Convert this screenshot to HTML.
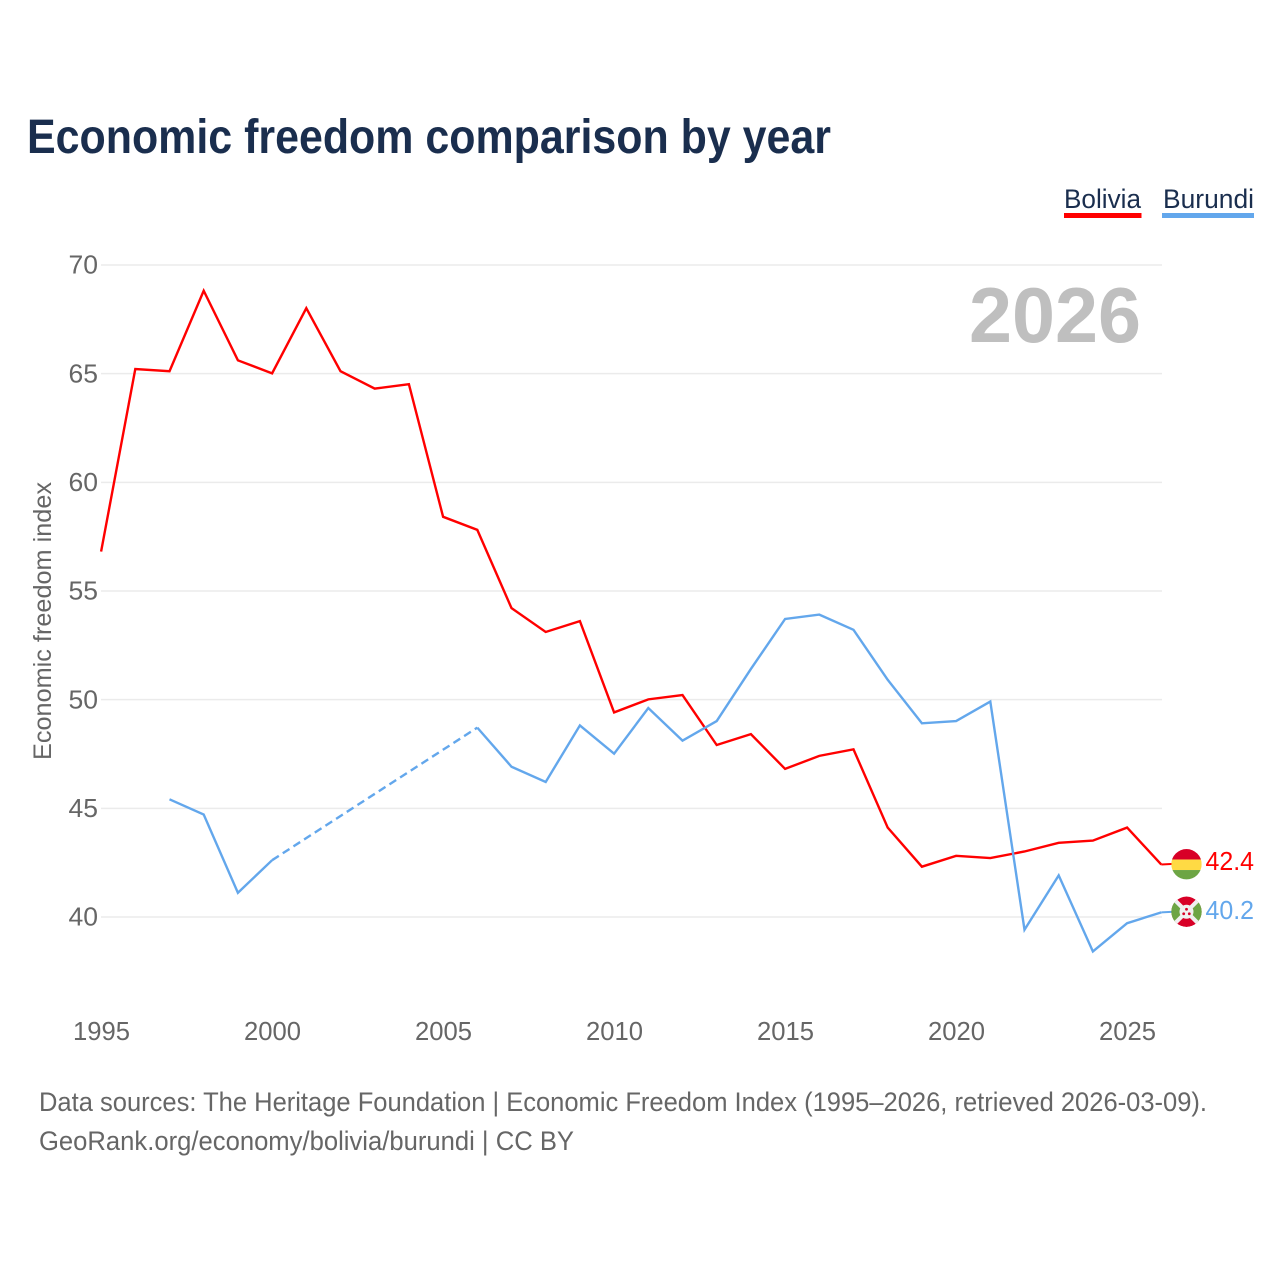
<!DOCTYPE html>
<html lang="en">
<head>
<meta charset="utf-8">
<title>Economic freedom comparison by year</title>
<style>
html,body{margin:0;padding:0;background:#fff}
svg{display:block;font-family:"Liberation Sans",sans-serif}
</style>
</head>
<body>
<svg id="chart" width="1280" height="1280" viewBox="0 0 1280 1280" xmlns="http://www.w3.org/2000/svg">
  <text x="27" y="153" font-size="48" font-weight="700" fill="#1a2e4e" textLength="804" lengthAdjust="spacingAndGlyphs">Economic freedom comparison by year</text>

  <g>
    <g>
      <text x="1064" y="208" font-size="27" fill="#1a2e4e" textLength="77" lengthAdjust="spacingAndGlyphs">Bolivia</text>
      <rect x="1064" y="213" width="77.500" height="5" fill="#ff0000"/>
    </g>
    <g>
      <text x="1163" y="208" font-size="27" fill="#1a2e4e" textLength="91" lengthAdjust="spacingAndGlyphs">Burundi</text>
      <rect x="1162" y="213" width="92" height="5" fill="#63a7ec"/>
    </g>
  </g>

  <g id="grid"></g>
  <g id="yticks"></g>
  <g id="xticks"></g>

  <text transform="translate(51 621) rotate(-90)" text-anchor="middle" font-size="25" fill="#666666" textLength="278" lengthAdjust="spacingAndGlyphs">Economic freedom index</text>

  <text x="969" y="342" font-size="78" font-weight="700" fill="#bfbfbf" textLength="172" lengthAdjust="spacingAndGlyphs">2026</text>

  <g id="series"></g>
  <g id="ends"></g>

  <text x="39" y="1111" font-size="27" fill="#666666" textLength="1168" lengthAdjust="spacingAndGlyphs">Data sources: The Heritage Foundation | Economic Freedom Index (1995–2026, retrieved 2026-03-09).</text>
  <text x="39" y="1150" font-size="27" fill="#666666" textLength="535" lengthAdjust="spacingAndGlyphs">GeoRank.org/economy/bolivia/burundi | CC BY</text>
</svg>
<script>
var years = [1995,1996,1997,1998,1999,2000,2001,2002,2003,2004,2005,2006,2007,2008,2009,2010,2011,2012,2013,2014,2015,2016,2017,2018,2019,2020,2021,2022,2023,2024,2025,2026];
var boliviaValues = [56.8,65.2,65.1,68.8,65.6,65.0,68.0,65.1,64.3,64.5,58.4,57.8,54.2,53.1,53.6,49.4,50.0,50.2,47.9,48.4,46.8,47.4,47.7,44.1,42.3,42.8,42.7,43.0,43.4,43.5,44.1,42.4];
var burundiValues = [null,null,45.4,44.7,41.1,42.6,null,null,null,null,null,48.7,46.9,46.2,48.8,47.5,49.6,48.1,49.0,51.4,53.7,53.9,53.2,50.9,48.9,49.0,49.9,39.4,41.9,38.4,39.7,40.2];
var yTickValues = [40,45,50,55,60,65,70];
var xTickValues = [1995,2000,2005,2010,2015,2020,2025];

var NS = 'http://www.w3.org/2000/svg';
function xScale(year){ return 101.1 + (year - 1995) * 34.2; }
function yScale(value){ return 264.7 + (70 - value) * 21.733; }
function make(tag, parent, attrs){
  var el = document.createElementNS(NS, tag);
  for (var k in attrs) el.setAttribute(k, attrs[k]);
  parent.appendChild(el);
  return el;
}

var grid = document.getElementById('grid');
var yticks = document.getElementById('yticks');
yTickValues.forEach(function(v){
  var line = make('line', grid, {x1:101, x2:1162, y1:yScale(v) + 0.3, y2:yScale(v) + 0.3, stroke:'#ebebeb', 'stroke-width':1.5});
  
  
  var label = make('text', yticks, {x:98, y:yScale(v) + 9, 'text-anchor':'end', 'font-size':26, fill:'#666666', textLength:29.5, lengthAdjust:'spacingAndGlyphs'});
  
  
  label.textContent = v;
});

var xticks = document.getElementById('xticks');
xTickValues.forEach(function(y){
  var label = make('text', xticks, {x:xScale(y) + 0.4, y:1040, 'text-anchor':'middle', 'font-size':26, fill:'#666666', textLength:57, lengthAdjust:'spacingAndGlyphs'});
  
  
  label.textContent = y;
});

function drawSeries(values, color, name){
  var group = document.getElementById('series');
  var segment = [];
  var lastPoint = null;
  function flush(){
    if (segment.length > 1) {
      var path = make('polyline', group, {points:segment.join(' '), fill:'none', stroke:color, 'stroke-width':2.4, 'stroke-linejoin':'miter'});
      
      
    }
    segment = [];
  }
  values.forEach(function(v, i){
    if (v === null) { flush(); return; }
    var pt = [xScale(years[i]), yScale(v)];
    if (segment.length === 0 && lastPoint && lastPoint.i < i - 1) {
      var gap = make('line', group, {x1:lastPoint.p[0], y1:lastPoint.p[1], x2:pt[0], y2:pt[1], stroke:color, 'stroke-width':2.4, 'stroke-dasharray':'8 4.7'});
      
      
    }
    segment.push(pt.join(','));
    lastPoint = {i:i, p:pt};
  });
  flush();
}
drawSeries(boliviaValues, '#ff0000', 'bolivia');
drawSeries(burundiValues, '#63a7ec', 'burundi');

var ends = document.getElementById('ends');
var flagX = 1186.5;
var R = 15.2;
var defs = make('defs', ends, {});
function clipFor(id, cy){
  var c = make('clipPath', defs, {id:id});
  make('circle', c, {cx:flagX, cy:cy, r:R});
}

function endLabel(values, color, name, labelDy){
  var last = values[values.length - 1];
  var yy = yScale(last);
  var stub = make('line', ends, {x1:xScale(2026), y1:yy, x2:flagX - R + 2, y2:yy - 0.6, stroke:color, 'stroke-width':2});
  
  
  var text = make('text', ends, {x:1254, y:yy + labelDy, 'text-anchor':'end', 'font-size':26, fill:color, textLength:48.5, lengthAdjust:'spacingAndGlyphs'});
  
  
  text.textContent = last.toFixed(1);
  return yy;
}

var by = endLabel(boliviaValues, '#ff0000', 'bolivia', 5.5);
var buy = endLabel(burundiValues, '#63a7ec', 'burundi', 6.5);
by -= 0.3; buy -= 0.6;

clipFor('clip-bolivia', by);
var boliviaFlag = make('g', ends, {'clip-path':'url(#clip-bolivia)'});


make('rect', boliviaFlag, {x:flagX - R, y:by - R, width:2 * R, height:10.5, fill:'#d80027'});
make('rect', boliviaFlag, {x:flagX - R, y:by - R + 10.5, width:2 * R, height:10.5, fill:'#ffda44'});
make('rect', boliviaFlag, {x:flagX - R, y:by - R + 21, width:2 * R, height:10, fill:'#6da544'});

clipFor('clip-burundi', buy);
var burundiFlag = make('g', ends, {'clip-path':'url(#clip-burundi)'});


make('circle', burundiFlag, {cx:flagX, cy:buy, r:R, fill:'#d80027'});
make('polygon', burundiFlag, {points:[flagX - 16, buy - 16, flagX - 16, buy + 16, flagX, buy].join(' '), fill:'#6da544'});
make('polygon', burundiFlag, {points:[flagX + 16, buy - 16, flagX + 16, buy + 16, flagX, buy].join(' '), fill:'#6da544'});
make('line', burundiFlag, {x1:flagX - 16, y1:buy - 16, x2:flagX + 16, y2:buy + 16, stroke:'#f0f0f0', 'stroke-width':4});
make('line', burundiFlag, {x1:flagX + 16, y1:buy - 16, x2:flagX - 16, y2:buy + 16, stroke:'#f0f0f0', 'stroke-width':4});
make('circle', burundiFlag, {cx:flagX, cy:buy, r:7, fill:'#f0f0f0'});
make('circle', burundiFlag, {cx:flagX, cy:buy - 2.5, r:1.4, fill:'#d80027'});
make('circle', burundiFlag, {cx:flagX - 2.8, cy:buy + 2, r:1.4, fill:'#d80027'});
make('circle', burundiFlag, {cx:flagX + 2.8, cy:buy + 2, r:1.4, fill:'#d80027'});
</script>
</body>
</html>
